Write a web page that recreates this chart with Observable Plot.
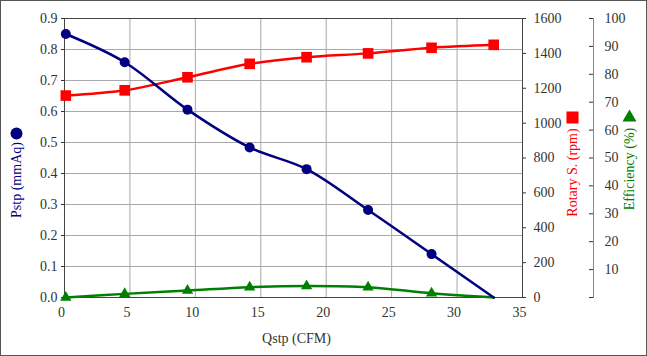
<!DOCTYPE html>
<html><head><meta charset="utf-8">
<script src="https://cdn.jsdelivr.net/npm/d3@7"></script>
<script src="https://cdn.jsdelivr.net/npm/@observablehq/plot@0.6"></script>
<style>
html,body{margin:0;padding:0;background:#fff;}
#chart svg{display:block;outline:1px solid #555;outline-offset:-1px;}
#chart svg, #chart svg text{font-family:"Liberation Serif",serif !important;}
</style></head><body><div id="chart"></div>
<script>
// Data
const qstp = [0.1, 4.6, 9.4, 14.15, 18.5, 23.2, 28.05, 32.8];
const pstp = [0.85, 0.759, 0.606, 0.484, 0.414, 0.282, 0.140, 0.0];
const rpm  = [1158, 1188, 1263, 1340, 1378, 1400, 1432, 1449];
const eff  = [0.0, 1.3, 2.5, 3.7, 4.1, 3.7, 1.5, 0.0];
// markers shown for these points (last pressure/efficiency point has no marker)
const pMarked = [true, true, true, true, true, true, true, false];
const eMarked = [true, true, true, true, true, true, true, false];

const qTicks   = [0, 5, 10, 15, 20, 25, 30, 35];
const pTicks   = [0, 0.1, 0.2, 0.3, 0.4, 0.5, 0.6, 0.7, 0.8, 0.9];
const rpmTicks = [0, 200, 400, 600, 800, 1000, 1200, 1400, 1600];
const effTicks = [0, 10, 20, 30, 40, 50, 60, 70, 80, 90, 100];

const P_MAX = 0.9, R_MAX = 1600, E_MAX = 100;
const fromR = v => v * P_MAX / R_MAX;
const fromE = v => v * P_MAX / E_MAX;

const rows = qstp.map((q, i) => ({q, p: pstp[i], r: fromR(rpm[i]), e: fromE(eff[i]), pm: pMarked[i], em: eMarked[i]}));

const NAVY = "#000080", RED = "#ff0000", GREEN = "#008000";
const font = "Liberation Serif";
const T = {fontFamily: font, fontSize: 14};

const chart = Plot.plot({
  width: 647, height: 356,
  marginLeft: 64, marginRight: 125, marginTop: 18, marginBottom: 59,
  style: {fontFamily: font, fontSize: "14px", color: "#333", background: "#fff"},
  x: {domain: [0, 35]},
  y: {domain: [0, 0.9]},
  marks: [
    Plot.gridX(qTicks, {stroke: "#a8a8a8", strokeOpacity: 1}),
    Plot.gridY(pTicks, {stroke: "#a8a8a8", strokeOpacity: 1}),
    Plot.frame({stroke: "#444"}),
    Plot.axisX(qTicks, {...T, tickSize: 0, tickPadding: 10, dx: -3, label: null, fill: "#333"}),
    Plot.axisY(pTicks, {...T, anchor: "left", tickSize: 3, tickPadding: 4, tickFormat: d3.format(".1f"), label: null, fill: "#333"}),
    Plot.axisY(rpmTicks.map(fromR), {...T, anchor: "right", tickSize: 3, tickPadding: 8, tickFormat: d => String(Math.round(d * R_MAX / P_MAX)), label: null, fill: "#333"}),
    Plot.axisY(effTicks.map(fromE), {...T, anchor: "right", dx: 71, tickSize: -5, tickPadding: 16, tickFormat: d => { const v = Math.round(d * E_MAX / P_MAX); return v === 0 ? "" : String(v); }, label: null, fill: "#333"}),
    Plot.frame({anchor: "right", dx: 71, stroke: "#888"}),
    Plot.line(rows, {x: "q", y: "e", stroke: GREEN, strokeWidth: 2.5, curve: "catmull-rom"}),
    Plot.line(rows, {x: "q", y: "r", stroke: RED, strokeWidth: 2.5, curve: "catmull-rom"}),
    Plot.line(rows, {x: "q", y: "p", stroke: NAVY, strokeWidth: 2.5, curve: "catmull-rom"}),
    Plot.dot(rows.filter(d => d.em), {x: "q", y: "e", symbol: "triangle", r: 4.2, fill: GREEN, stroke: null}),
    Plot.dot(rows, {x: "q", y: "r", symbol: "square", r: 6, fill: RED, stroke: null}),
    Plot.dot(rows.filter(d => d.pm), {x: "q", y: "p", symbol: "circle", r: 5, fill: NAVY, stroke: null}),
    // axis titles
    Plot.text(["Qstp (CFM)"], {...T, frameAnchor: "bottom", dx: 3, dy: 41, textAnchor: "middle", lineAnchor: "middle", fill: "#333"}),
    Plot.text(["Pstp (mmAq)"], {...T, frameAnchor: "left", dx: -48, dy: 22, rotate: -90, textAnchor: "middle", lineAnchor: "middle", fill: NAVY}),
    Plot.dot([0], {frameAnchor: "left", dx: -48, dy: -24.5, symbol: "circle", r: 6, fill: NAVY, stroke: null}),
    Plot.text(["Rotary S. (rpm)"], {...T, frameAnchor: "right", dx: 50, dy: 14.5, rotate: -90, textAnchor: "middle", lineAnchor: "middle", fill: RED}),
    Plot.dot([0], {frameAnchor: "right", dx: 50, dy: -40.5, symbol: "square", r: 6.8, fill: RED, stroke: null}),
    Plot.text(["Efficiency (%)"], {...T, frameAnchor: "right", dx: 107, dy: 11, rotate: -90, textAnchor: "middle", lineAnchor: "middle", fill: GREEN}),
    Plot.dot([0], {frameAnchor: "right", dx: 107, dy: -40.5, symbol: "triangle", r: 5.2, fill: GREEN, stroke: null})
  ]
});
document.getElementById("chart").append(chart);
</script></body></html>
